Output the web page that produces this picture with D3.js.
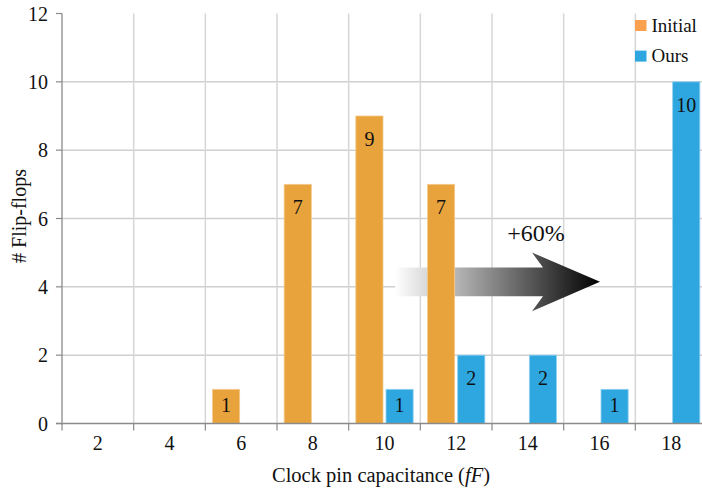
<!DOCTYPE html>
<html>
<head>
<meta charset="utf-8">
<script src="https://cdn.jsdelivr.net/npm/d3@7/dist/d3.min.js"></script>
<style>
  html, body { margin: 0; padding: 0; background: #fff; }
  svg { display: block; }
</style>
</head>
<body>
<svg id="chart" width="702" height="491"></svg>
<script>
// Flip-flop counts per clock pin capacitance bin
const categories = ["2", "4", "6", "8", "10", "12", "14", "16", "18"];
const seriesNames = ["Initial", "Ours"];
const initialValues = [0, 0, 1, 7, 9, 7, 0, 0, 0];
const oursValues = [0, 0, 0, 0, 1, 2, 2, 1, 10];
const yTicks = [0, 2, 4, 6, 8, 10, 12];
const arrowLabel = "+60%";

const colors = { Initial: "#E8A33C", Ours: "#2EA7E0" };
const legendColors = { Initial: "#FBA04E", Ours: "#2EA7E0" };
const FONT = "Liberation Serif";

const svg = d3.select("#chart");
const margin = { left: 62, top: 13.5, bottom: 67.5 };
const plotRight = 707;
const H = 491;

const x0 = d3.scaleBand().domain(categories).range([margin.left, plotRight]).paddingInner(0.2).paddingOuter(0.1);
const step = x0.step();
const x1 = d3.scaleBand().domain(seriesNames).range([0, x0.bandwidth()]).paddingInner(0.1);
const y = d3.scaleLinear().domain([0, 12]).range([H - margin.bottom, margin.top]);

const rows = categories.map((c, i) => ({ cat: c, Initial: initialValues[i], Ours: oursValues[i] }));

// grid
const grid = svg.append("g");
grid.selectAll("line.h").data(yTicks.filter(t => t > 0 && t < 12)).join("line")
  .attr("x1", margin.left).attr("x2", plotRight)
  .attr("y1", d => y(d)).attr("y2", d => y(d))
  .attr("stroke", "#cfcfcf").attr("stroke-width", 1.5);
const bounds = categories.map(c => x0(c) - step * 0.1).concat([plotRight]);
grid.selectAll("line.v").data(bounds.slice(1)).join("line")
  .attr("x1", d => d).attr("x2", d => d)
  .attr("y1", y(12)).attr("y2", y(0))
  .attr("stroke", "#d6d6d6").attr("stroke-width", 1.5);

// arrow with fading gradient
const defs = svg.append("defs");
const grad = defs.append("linearGradient").attr("id", "arrowGrad")
  .attr("gradientUnits", "userSpaceOnUse")
  .attr("x1", 395).attr("x2", 600).attr("y1", 0).attr("y2", 0);
grad.append("stop").attr("offset", 0).attr("stop-color", "#ffffff");
grad.append("stop").attr("offset", 0.35).attr("stop-color", "#a8a8a8");
grad.append("stop").attr("offset", 1).attr("stop-color", "#000000");

const aMid = y(4) - 5;
const bodyH = 14.3, headH = 29.3;
const pts = [
  [395, aMid - bodyH], [543, aMid - bodyH], [532, aMid - headH], [600, aMid],
  [532, aMid + headH], [543, aMid + bodyH], [395, aMid + bodyH]
];
svg.append("path").attr("d", d3.line()(pts) + "Z").attr("fill", "url(#arrowGrad)");
svg.append("text").attr("x", 536).attr("y", 241).attr("text-anchor", "middle")
  .attr("font-family", FONT).attr("font-size", 24).attr("fill", "#111").text(arrowLabel);

// bars
const groups = svg.append("g").selectAll("g").data(rows).join("g")
  .attr("transform", d => `translate(${x0(d.cat)},0)`);
const barData = d => seriesNames.map(k => ({ key: k, value: d[k] })).filter(b => b.value > 0);
groups.selectAll("rect").data(barData).join("rect")
  .attr("x", b => x1(b.key)).attr("width", x1.bandwidth())
  .attr("y", b => y(b.value)).attr("height", b => y(0) - y(b.value))
  .attr("fill", b => colors[b.key])
  .attr("stroke", b => b.key === "Initial" ? "#f3c98c" : "#8fd0f0").attr("stroke-width", 0.8);
groups.selectAll("text").data(barData).join("text")
  .attr("x", b => x1(b.key) + x1.bandwidth() / 2)
  .attr("y", b => Math.min(y(b.value) + 30, (y(b.value) + y(0)) / 2 + 6))
  .attr("text-anchor", "middle").attr("font-family", FONT).attr("font-size", 20).attr("fill", "#111")
  .text(b => b.value);

// axes
svg.append("line").attr("x1", margin.left).attr("x2", margin.left)
  .attr("y1", y(12)).attr("y2", y(0) + 1).attr("stroke", "#8a8a8a").attr("stroke-width", 1.3);
svg.append("line").attr("x1", margin.left - 6).attr("x2", plotRight)
  .attr("y1", y(0)).attr("y2", y(0)).attr("stroke", "#8a8a8a").attr("stroke-width", 1.5);

const yAxis = svg.append("g");
yAxis.selectAll("line").data(yTicks).join("line")
  .attr("x1", margin.left - 6).attr("x2", margin.left)
  .attr("y1", d => y(d)).attr("y2", d => y(d)).attr("stroke", "#8a8a8a").attr("stroke-width", 1.2);
yAxis.selectAll("text").data(yTicks).join("text")
  .attr("x", margin.left - 14).attr("y", d => y(d) + 7)
  .attr("text-anchor", "end").attr("font-family", FONT).attr("font-size", 20).attr("fill", "#111").text(d => d);

const xAxis = svg.append("g");
xAxis.selectAll("line").data(bounds).join("line")
  .attr("x1", d => d).attr("x2", d => d)
  .attr("y1", y(0)).attr("y2", y(0) + 7).attr("stroke", "#8a8a8a").attr("stroke-width", 1.2);
xAxis.selectAll("text").data(categories).join("text")
  .attr("x", c => x0(c) + x0.bandwidth() / 2).attr("y", y(0) + 26)
  .attr("text-anchor", "middle").attr("font-family", FONT).attr("font-size", 20).attr("fill", "#111").text(c => c);

// axis titles
const xt = svg.append("text").attr("x", 381).attr("y", 482).attr("text-anchor", "middle")
  .attr("font-family", FONT).attr("font-size", 20.5).attr("fill", "#111");
xt.append("tspan").text("Clock pin capacitance (");
xt.append("tspan").attr("font-style", "italic").text("fF");
xt.append("tspan").text(")");

svg.append("text").attr("transform", "translate(25.5,216) rotate(-90)")
  .attr("text-anchor", "middle").attr("font-family", FONT).attr("font-size", 20).attr("fill", "#111").text("# Flip-flops");

// legend
const legend = svg.append("g").selectAll("g").data(seriesNames).join("g")
  .attr("transform", (d, i) => `translate(635,${20 + i * 30.6})`);
legend.append("rect").attr("width", 11.5).attr("height", 11).attr("fill", d => legendColors[d]);
legend.append("text").attr("x", 16.5).attr("y", 11.7).attr("font-family", FONT).attr("font-size", 19).attr("fill", "#111").text(d => d);
</script>
</body>
</html>
